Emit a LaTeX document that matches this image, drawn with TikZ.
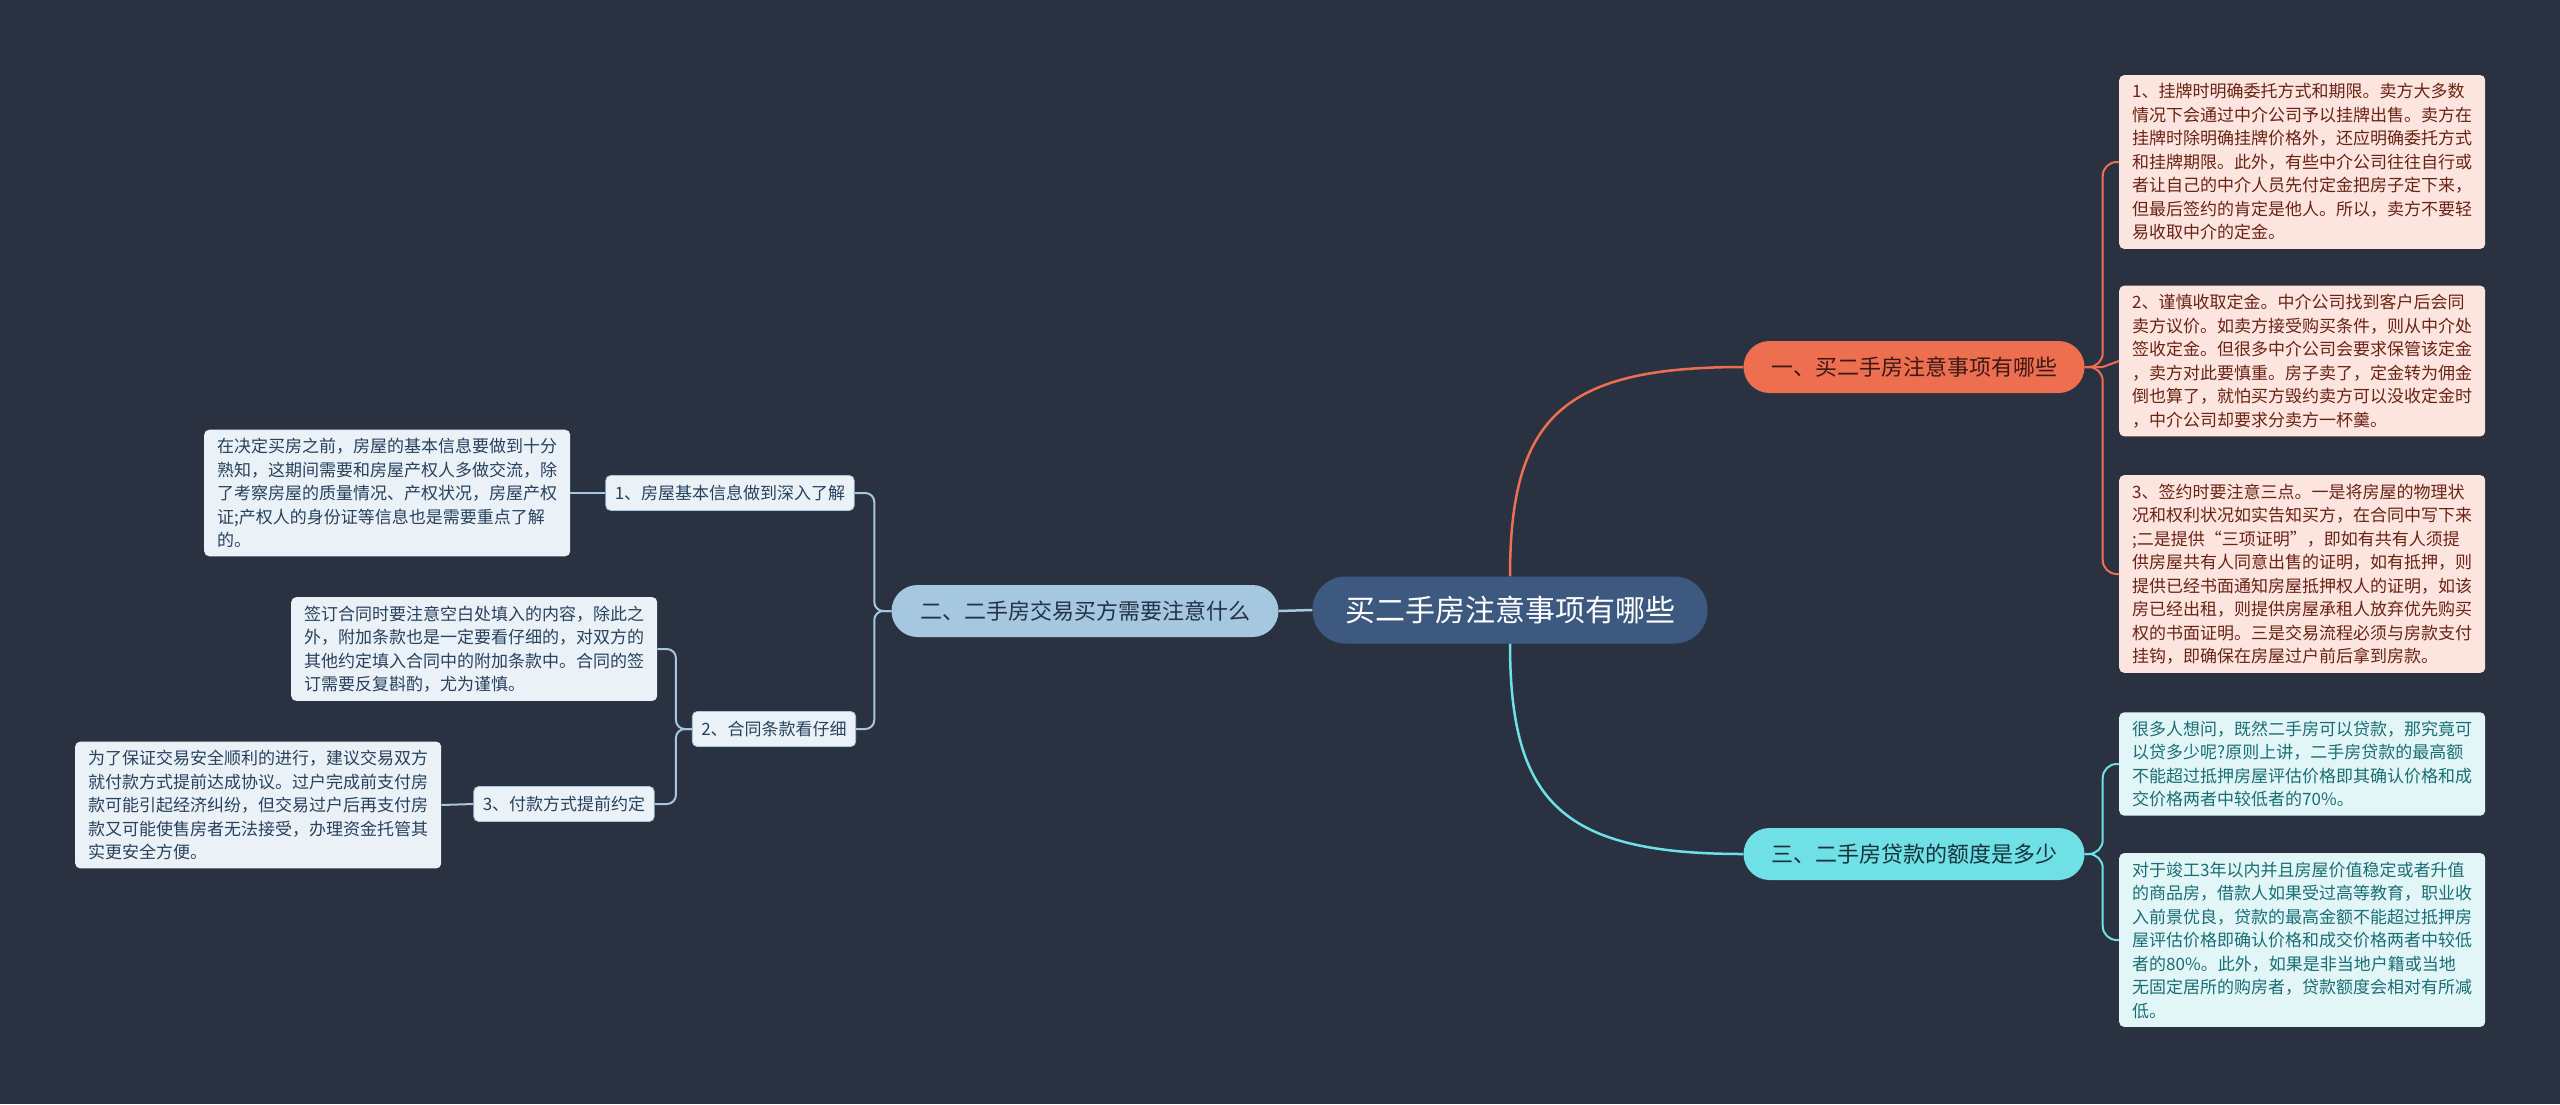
\documentclass[tikz,border=0pt]{standalone}
\usepackage{fontspec}
\setmainfont{Noto Sans CJK SC}
\usetikzlibrary{calc}
\begin{document}
\begin{tikzpicture}[x=1pt,y=-1pt]
\definecolor{bgc}{RGB}{42,50,66}
\definecolor{cenc}{RGB}{61,89,128}
\definecolor{orc}{RGB}{238,110,80}
\definecolor{cyc}{RGB}{110,224,230}
\definecolor{blc}{RGB}{165,199,224}
\definecolor{pinkf}{RGB}{253,229,223}
\definecolor{pinkt}{RGB}{105,35,20}
\definecolor{cyanf}{RGB}{226,246,248}
\definecolor{cyant}{RGB}{25,110,115}
\definecolor{bluef}{RGB}{234,242,248}
\definecolor{bluet}{RGB}{40,65,92}
\tikzset{
  leafbox/.style={rounded corners=5pt, inner xsep=13pt, inner ysep=8.5pt, align=left, anchor=west, minimum width=366pt, font=\fontsize{17}{23.5}\selectfont},
  leafR/.style={leafbox, fill=pinkf, text=pinkt},
  leafC/.style={leafbox, fill=cyanf, text=cyant},
  leafL/.style={leafbox, fill=bluef, text=bluet},
  subL/.style={rounded corners=5pt, fill=bluef, text=bluet, draw=blc, line width=0.8pt, inner xsep=9pt, minimum height=35pt, font=\fontsize{17}{20}\selectfont},
  branch/.style={rounded corners=26pt, minimum height=52pt, inner xsep=20pt, font=\fontsize{22}{26}\selectfont},
  oline/.style={draw=orc, line width=2.5pt},
  cline/.style={draw=cyc, line width=2.5pt},
  bline/.style={draw=blc, line width=2.5pt},
  bsline/.style={draw=blc, line width=2pt, rounded corners=9pt},
  orsub/.style={draw=orc, line width=2pt, rounded corners=14pt},
  cysub/.style={draw=cyc, line width=2pt, rounded corners=14pt},
}
\useasboundingbox (0,0) rectangle (2560,1104);
\fill[bgc] (0,0) rectangle (2560,1104);

% central
\node[fill=cenc, text=white, rounded corners=33pt, minimum width=395pt, minimum height=67pt, font=\fontsize{30}{34}\selectfont] (c) at (1510,610) {买二手房注意事项有哪些};

% branches
\node[branch, fill=orc, text={rgb,255:red,60;green,25;blue,20}, minimum width=341pt] (b1) at (1914,367) {一、买二手房注意事项有哪些};
\node[branch, fill=cyc, text={rgb,255:red,25;green,50;blue,60}, minimum width=341pt] (b3) at (1914,854) {三、二手房贷款的额度是多少};
\node[branch, fill=blc, text={rgb,255:red,35;green,50;blue,70}, minimum width=387pt] (b2) at (1085,611) {二、二手房交易买方需要注意什么};

% right leaves
\node[leafR] (r1) at (2119,162) {1、挂牌时明确委托方式和期限。卖方大多数\\情况下会通过中介公司予以挂牌出售。卖方在\\挂牌时除明确挂牌价格外，还应明确委托方式\\和挂牌期限。此外，有些中介公司往往自行或\\者让自己的中介人员先付定金把房子定下来，\\但最后签约的肯定是他人。所以，卖方不要轻\\易收取中介的定金。};
\node[leafR] (r2) at (2119,361) {2、谨慎收取定金。中介公司找到客户后会同\\卖方议价。如卖方接受购买条件，则从中介处\\签收定金。但很多中介公司会要求保管该定金\\，卖方对此要慎重。房子卖了，定金转为佣金\\倒也算了，就怕买方毁约卖方可以没收定金时\\，中介公司却要求分卖方一杯羹。};
\node[leafR] (r3) at (2119,574) {3、签约时要注意三点。一是将房屋的物理状\\况和权利状况如实告知买方，在合同中写下来\\;二是提供“三项证明”，即如有共有人须提\\供房屋共有人同意出售的证明，如有抵押，则\\提供已经书面通知房屋抵押权人的证明，如该\\房已经出租，则提供房屋承租人放弃优先购买\\权的书面证明。三是交易流程必须与房款支付\\挂钩，即确保在房屋过户前后拿到房款。};
\node[leafC] (r4) at (2119,764) {很多人想问，既然二手房可以贷款，那究竟可\\以贷多少呢?原则上讲，二手房贷款的最高额\\不能超过抵押房屋评估价格即其确认价格和成\\交价格两者中较低者的70\%。};
\node[leafC] (r5) at (2119,940) {对于竣工3年以内并且房屋价值稳定或者升值\\的商品房，借款人如果受过高等教育，职业收\\入前景优良，贷款的最高金额不能超过抵押房\\屋评估价格即确认价格和成交价格两者中较低\\者的80\%。此外，如果是非当地户籍或当地\\无固定居所的购房者，贷款额度会相对有所减\\低。};

% left subnodes
\node[subL] (s1) at (730,493) {1、房屋基本信息做到深入了解};
\node[subL] (s2) at (774,729) {2、合同条款看仔细};
\node[subL] (s3) at (564,804) {3、付款方式提前约定};

% left leaves
\node[leafL] (d1) at (204,493) {在决定买房之前，房屋的基本信息要做到十分\\熟知，这期间需要和房屋产权人多做交流，除\\了考察房屋的质量情况、产权状况，房屋产权\\证;产权人的身份证等信息也是需要重点了解\\的。};
\node[leafL] (d2) at (291,649) {签订合同时要注意空白处填入的内容，除此之\\外，附加条款也是一定要看仔细的，对双方的\\其他约定填入合同中的附加条款中。合同的签\\订需要反复斟酌，尤为谨慎。};
\node[leafL] (d3) at (75,805) {为了保证交易安全顺利的进行，建议交易双方\\就付款方式提前达成协议。过户完成前支付房\\款可能引起经济纠纷，但交易过户后再支付房\\款又可能使售房者无法接受，办理资金托管其\\实更安全方便。};

% junction coordinates
\coordinate (j1) at ($(b1.east)+(18,0)$);
\coordinate (j3) at ($(b3.east)+(18,0)$);
\coordinate (j2) at ($(b2.west)+(-17,0)$);
\coordinate (js2) at ($(s2.west)+(-16,0)$);

% main connectors
\draw[oline] (c.north) .. controls +(0,-160) and +(-180,0) .. (b1.west);
\draw[cline] (c.south) .. controls +(0,160) and +(-180,0) .. (b3.west);
\draw[bline] (c.west) -- (b2.east);

% right connectors
\draw[orsub] (b1.east) -- (j1) |- (r1.west);
\draw[draw=orc, line width=2pt] (b1.east) -- (j1) -- (r2.west);
\draw[orsub] (b1.east) -- (j1) |- (r3.west);
\draw[cysub] (b3.east) -- (j3) |- (r4.west);
\draw[cysub] (b3.east) -- (j3) |- (r5.west);

% left connectors
\draw[bsline] (b2.west) -- (j2) |- (s1.east);
\draw[bsline] (b2.west) -- (j2) |- (s2.east);
\draw[bsline] (s2.west) -- (js2) |- (d2.east);
\draw[bsline] (s2.west) -- (js2) |- (s3.east);
\draw[draw=blc, line width=2pt] (s1.west) -- (d1.east);
\draw[draw=blc, line width=2pt] (s3.west) -- (d3.east);
\end{tikzpicture}
\end{document}
